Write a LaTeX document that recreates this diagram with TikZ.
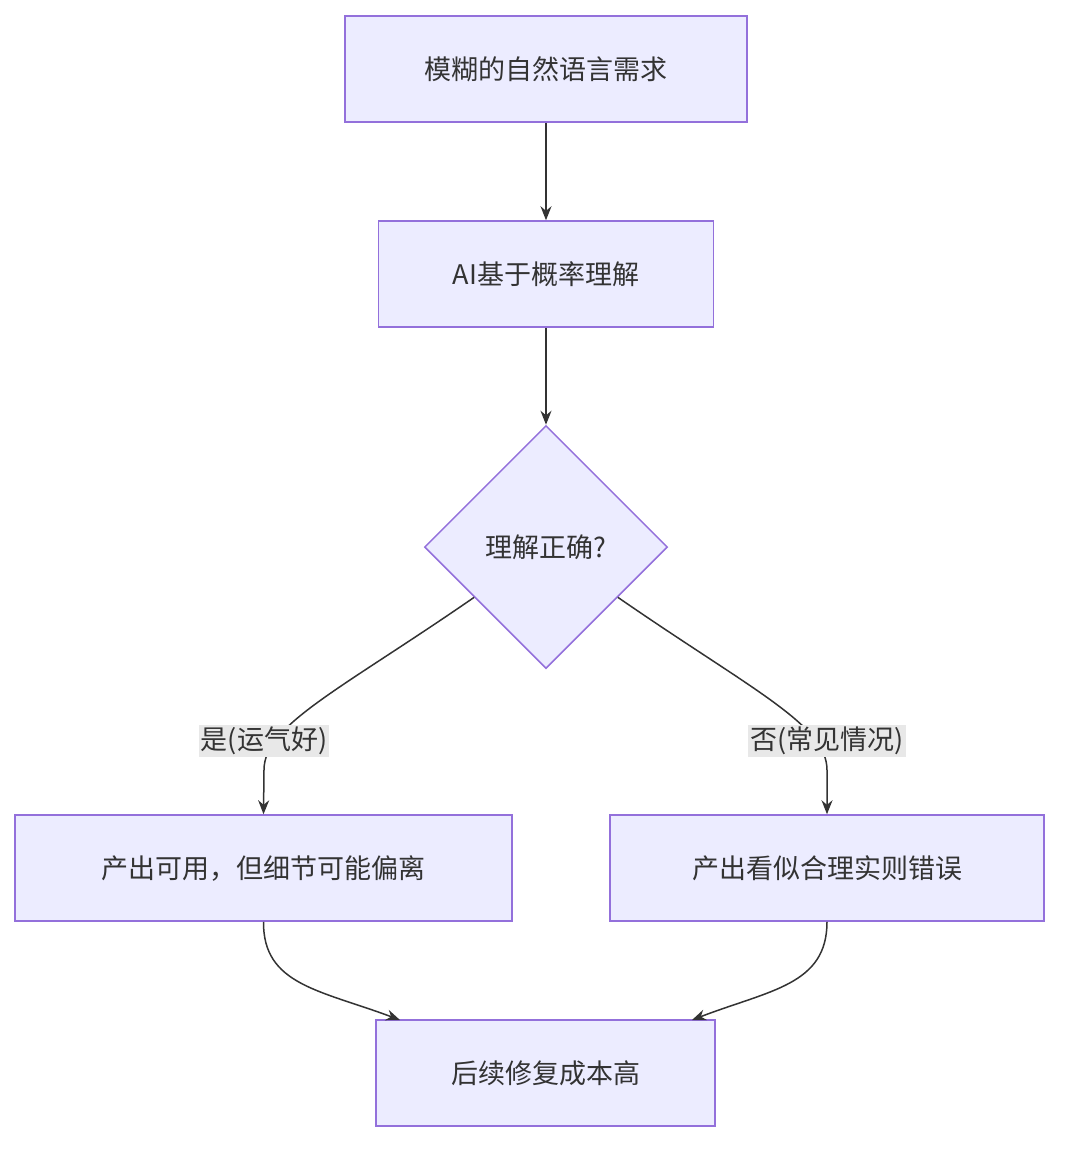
\documentclass[tikz,border=0pt]{standalone}
\usepackage{fontspec}
\setmainfont{Noto Sans CJK SC}
\usetikzlibrary{shapes.geometric,arrows.meta}
\definecolor{nfill}{HTML}{ECECFF}
\definecolor{nline}{HTML}{9370DB}
\definecolor{ed}{HTML}{333333}
\definecolor{lbg}{HTML}{E8E8E8}
\begin{document}
\begin{tikzpicture}[x=1pt,y=-1pt,
  box/.style={draw=nline,fill=nfill,line width=1.5pt,inner sep=0pt,font=\fontsize{27}{32}\selectfont,text=ed},
  dia/.style={box,diamond,aspect=1,minimum width=243pt,minimum height=243pt},
  lab/.style={fill=lbg,inner sep=2pt,font=\fontsize{27}{32}\selectfont,text=ed},
  arr/.style={draw=ed,line width=1.5pt,-{Stealth[length=14pt,width=11pt]}}]
\useasboundingbox[fill=white] (0,0) rectangle (1076,1160);
\node[box,minimum width=402pt,minimum height=106pt] (A) at (546,69) {模糊的自然语言需求};
\node[box,minimum width=335pt,minimum height=106pt] (B) at (546,274) {AI基于概率理解};
\node[dia] (C) at (546,547) {理解正确?};
\node[box,minimum width=497pt,minimum height=106pt] (D) at (263.5,868) {产出可用，但细节可能偏离};
\node[box,minimum width=434pt,minimum height=106pt] (E) at (827,868) {产出看似合理实则错误};
\node[box,minimum width=339pt,minimum height=106pt] (F) at (545.5,1073) {后续修复成本高};
\coordinate (Fl) at (400,1020);
\coordinate (Fr) at (692,1020);
\draw[arr] (A) -- (B);
\draw[arr] (B) -- (C);
\draw[arr] (C.215) .. controls (340,690) and (264,725) .. (264,770) -- (D.north);
\draw[arr] (C.325) .. controls (752,690) and (827,725) .. (827,770) -- (E.north);
\node[lab] (L1) at (264,741) {是(运气好)};
\node[lab] (L2) at (827,741) {否(常见情况)};
\draw[arr] (D.south) .. controls (263,985) and (320,990) .. (Fl);
\draw[arr] (E.south) .. controls (827,985) and (770,990) .. (Fr);
\end{tikzpicture}
\end{document}
